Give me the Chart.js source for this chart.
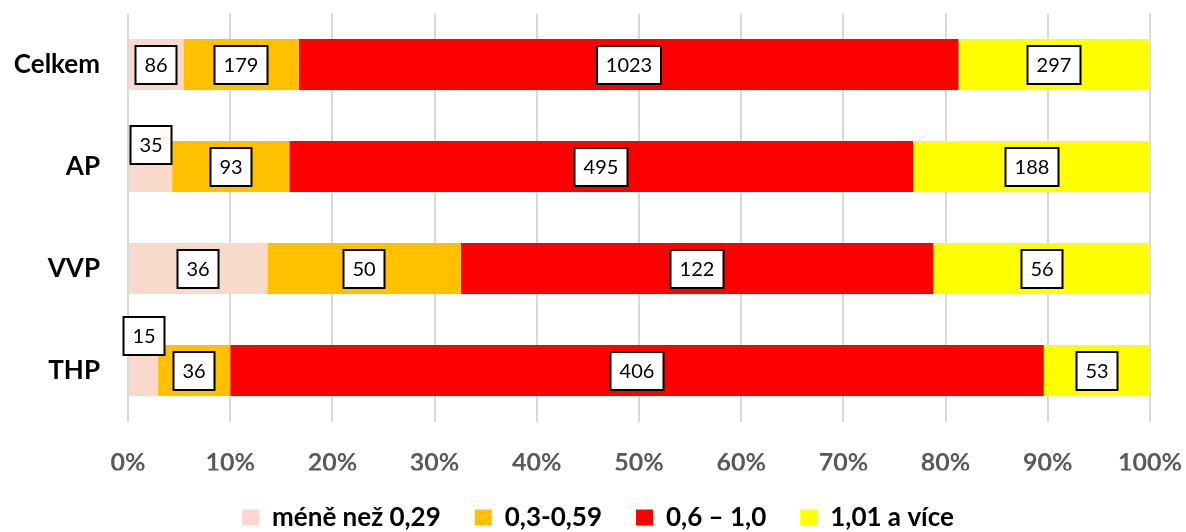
<!DOCTYPE html>
<html>
<head>
<meta charset="utf-8">
<script src="https://cdn.jsdelivr.net/npm/chart.js@4/dist/chart.umd.min.js"></script>
<style>
  html, body { margin: 0; padding: 0; background: #fff; }
  #wrap { width: 1186px; height: 532px; }
</style>
</head>
<body>
<div id="wrap"><canvas id="chart" width="1186" height="532"></canvas></div>
<script>
// kategorie a hodnoty
const categories = ["Celkem", "AP", "VVP", "THP"];
const seriesNames = ["méně než 0,29", "0,3-0,59", "0,6 – 1,0", "1,01 a více"];
const lowValues = [86, 35, 36, 15];
const midValues = [179, 93, 50, 36];
const highValues = [1023, 495, 122, 406];
const topValues = [297, 188, 56, 53];
const xTicks = [0, 10, 20, 30, 40, 50, 60, 70, 80, 90, 100];

const colors = ["#F8D9CB", "#FFC000", "#FF0000", "#FFFF00"];
const raw = [lowValues, midValues, highValues, topValues];
const totals = categories.map((c, i) => raw.reduce((s, arr) => s + arr[i], 0));

// popisky ktere jsou posunute nahoru (maly segment)
const labelShift = { "0-1": -22, "0-3": -35 };

const FONT = "Lato, 'Open Sans', sans-serif";

const boxLabels = {
    id: "boxLabels",
    afterDatasetsDraw(chart) {
        const ctx = chart.ctx;
        ctx.save();
        ctx.font = "20px " + FONT;
        ctx.textAlign = "center";
        ctx.textBaseline = "middle";
        chart.data.datasets.forEach((ds, di) => {
            const meta = chart.getDatasetMeta(di);
            meta.data.forEach((el, i) => {
                const txt = String(raw[di][i]);
                const cx = Math.round((el.x + el.base) / 2);
                const cy = Math.round(el.y + (labelShift[di + "-" + i] || 0));
                const w = Math.round(ctx.measureText(txt).width + 18);
                const h = 38;
                ctx.fillStyle = "#fff";
                ctx.fillRect(cx - w / 2, cy - h / 2, w, h);
                ctx.lineWidth = 2;
                ctx.strokeStyle = "#000";
                ctx.strokeRect(cx - w / 2, cy - h / 2, w, h);
                ctx.fillStyle = "#000";
                ctx.fillText(txt, cx, cy + 1);
            });
        });
        ctx.restore();
    }
};

new Chart(document.getElementById("chart"), {
    type: "bar",
    data: {
        labels: categories,
        datasets: raw.map((arr, k) => ({
            label: seriesNames[k],
            data: arr.map((v, i) => v / totals[i] * 100),
            backgroundColor: colors[k],
            borderWidth: 0,
            barPercentage: 0.5,
            categoryPercentage: 1
        }))
    },
    options: {
        indexAxis: "y",
        responsive: false,
        animation: false,
        devicePixelRatio: 1,
        // prava mezera jde pres osu x, aby legenda byla vic vpravo
        layout: { padding: { top: 13.5, right: 0, left: 10, bottom: -8.5 } },
        plugins: {
            legend: {
                position: "bottom",
                labels: {
                    boxWidth: 17, boxHeight: 16, padding: 34, color: "#000",
                    font: { family: FONT, size: 26, weight: "bold" }
                }
            },
            tooltip: { enabled: false }
        },
        scales: {
            x: {
                stacked: true, min: 0, max: 100,
                afterBuildTicks: (s) => { s.ticks = xTicks.map(v => ({ value: v })); },
                afterFit: (s) => { s.height = 49; s.paddingLeft = 0; s.paddingRight = 36; },
                grid: { color: "#D9D9D9", lineWidth: 2, drawTicks: false },
                border: { display: false },
                ticks: {
                    padding: 26.5, color: "#595959",
                    font: { family: FONT, size: 25, weight: "bold" },
                    callback: (v) => v + "%"
                }
            },
            y: {
                stacked: true,
                afterFit: (s) => { s.width = 118; s.paddingTop = 0; s.paddingBottom = 0; },
                grid: { display: false, drawTicks: false },
                border: { display: false },
                ticks: {
                    padding: 28, color: "#000",
                    font: { family: FONT, size: 26, weight: "bold" }
                }
            }
        }
    },
    plugins: [boxLabels]
});
</script>
</body>
</html>
